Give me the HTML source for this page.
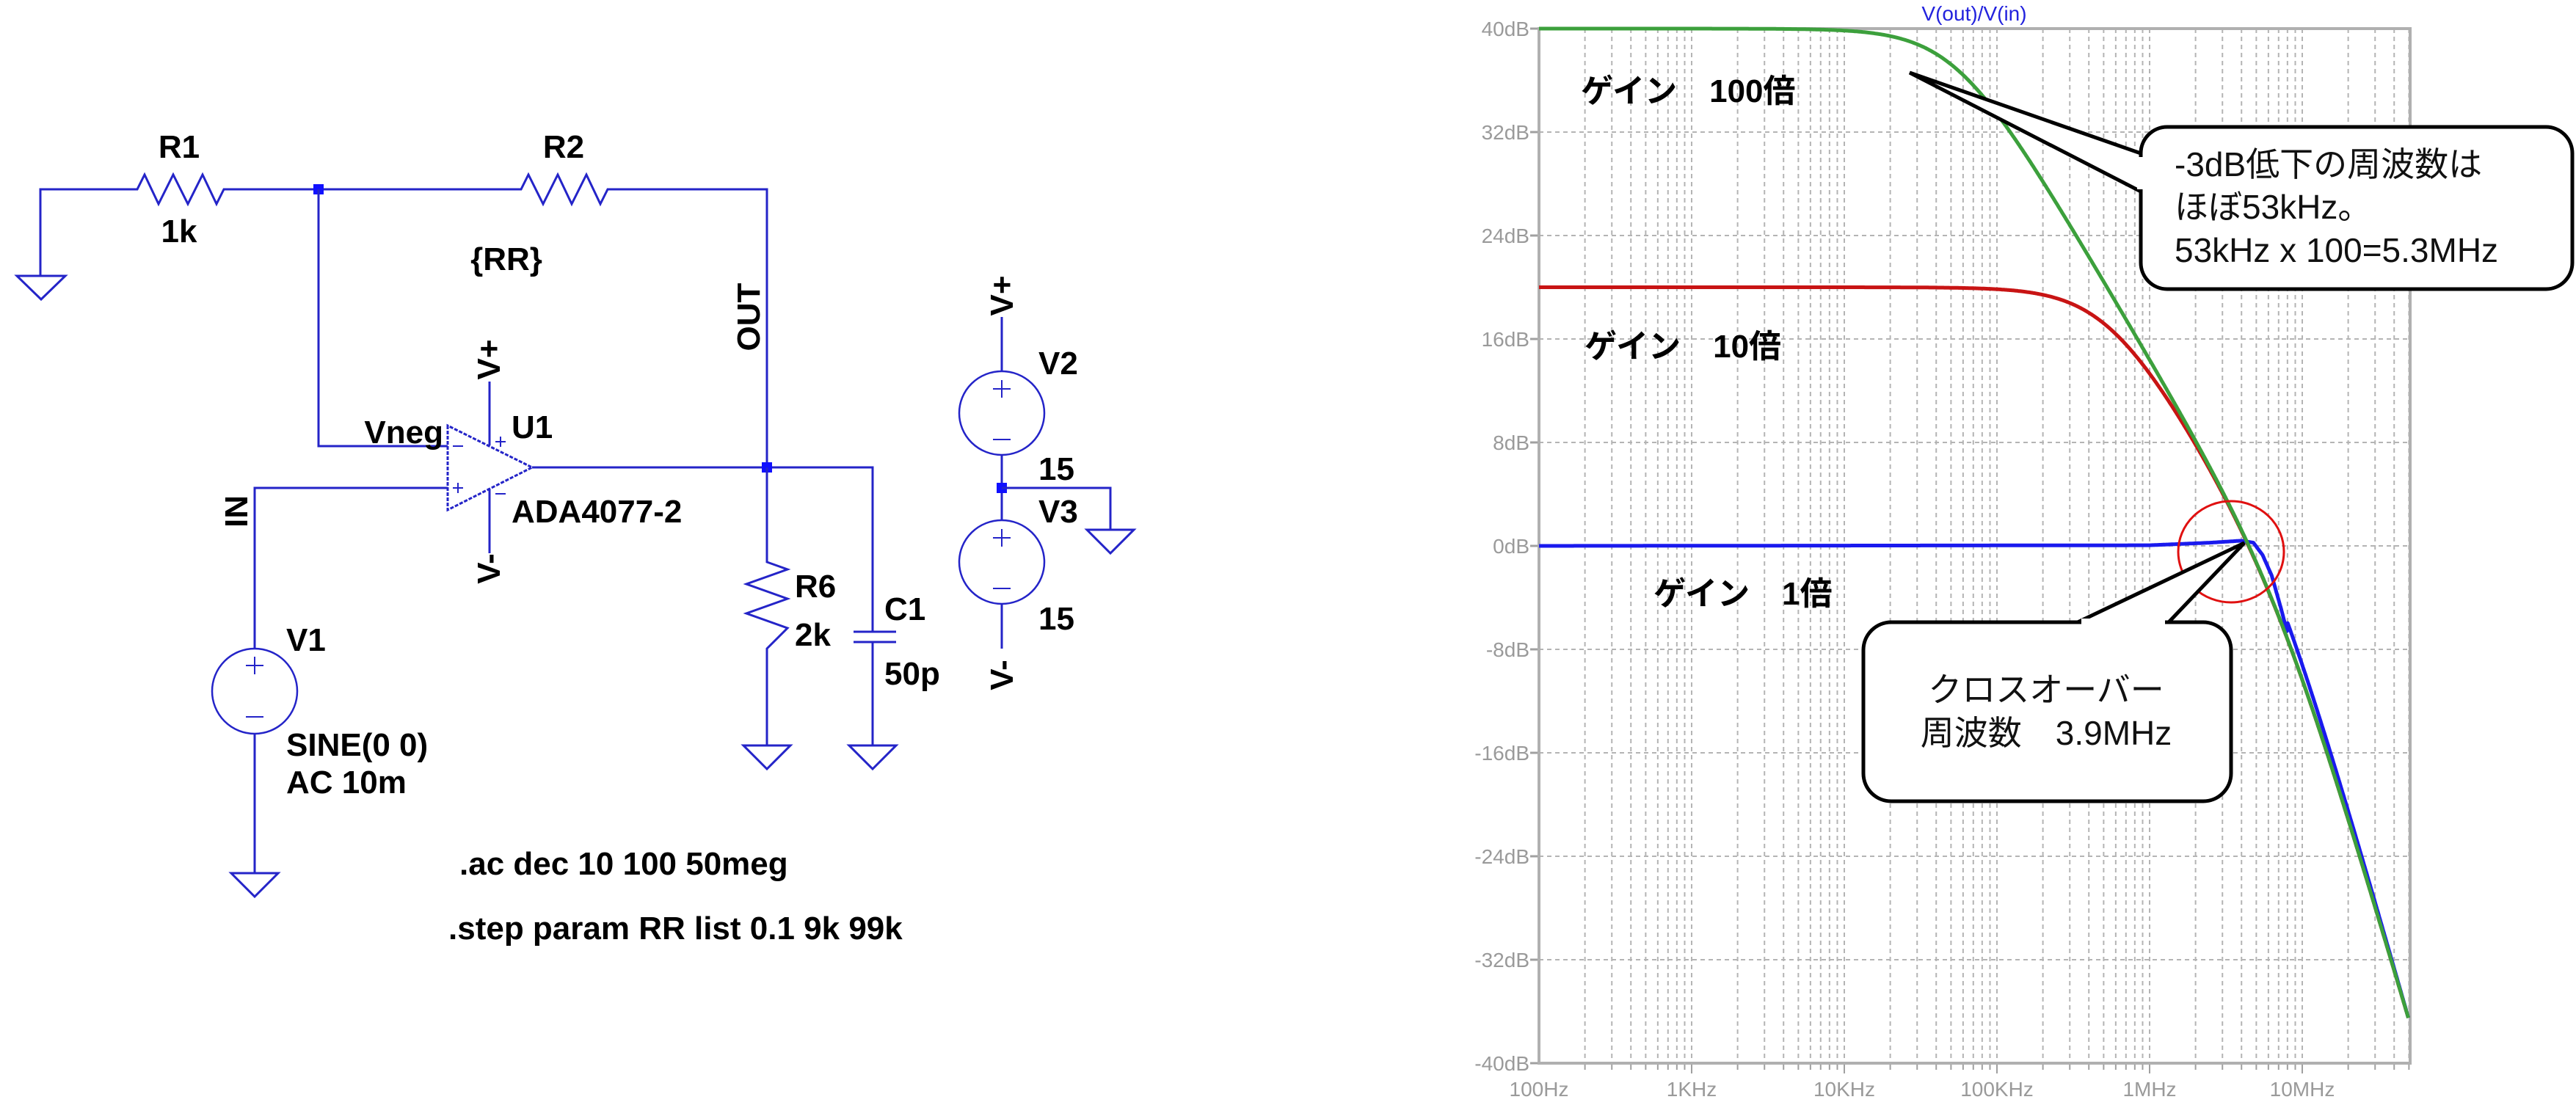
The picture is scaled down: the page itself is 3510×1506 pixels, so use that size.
<!DOCTYPE html>
<html><head><meta charset="utf-8">
<style>
html,body{margin:0;padding:0;background:#fff;}
svg{display:block;}
.s text{font-family:"Liberation Sans",sans-serif;font-weight:bold;font-size:44px;fill:#000;}
.w{stroke:#2424c8;stroke-width:3;fill:none;}
.ax{font-family:"Liberation Sans",sans-serif;font-size:28px;fill:#9a9a9a;}
.g{font-family:"Liberation Sans","Noto Sans CJK JP",sans-serif;font-weight:bold;font-size:44px;fill:#000;}
.c{font-family:"Liberation Sans","Noto Sans CJK JP",sans-serif;font-size:46px;fill:#111;}
</style></head>
<body>
<svg id="sv" width="3510" height="1506" viewBox="0 0 3510 1506" xmlns="http://www.w3.org/2000/svg">
<rect width="3510" height="1506" fill="#fff"/>
<g class="s">
 <polyline class="w" points="55,376 55,258 187,258 197,238 216,278 236,238 256,278 276,238 295,278 305,258 710,258 720,238 740,278 760,238 779,278 799,238 818,278 828,258 1045,258 1045,636"/>
 <polygon class="w" points="23,376 89,376 56,408"/>
 <rect x="427" y="251" width="14" height="14" fill="#1010ff"/>
 <text x="244" y="215" text-anchor="middle">R1</text>
 <text x="244" y="330" text-anchor="middle">1k</text>
 <text x="768" y="215" text-anchor="middle">R2</text>
 <text x="690" y="368" text-anchor="middle">{RR}</text>
 <polyline class="w" points="434,258 434,608 610,608"/>
 <text x="604" y="604" text-anchor="end">Vneg</text>
 <polygon points="610,580 610,695 725,637" fill="none" stroke="#2424c8" stroke-width="3" stroke-dasharray="5,2"/>
 <line class="w" x1="667" y1="520" x2="667" y2="607"/>
 <line class="w" x1="667" y1="667" x2="667" y2="754"/>
 <g stroke="#2424c8" stroke-width="2">
  <line x1="617" y1="608" x2="631" y2="608"/>
  <line x1="617" y1="665" x2="631" y2="665"/><line x1="624" y1="658" x2="624" y2="672"/>
  <line x1="675" y1="602" x2="689" y2="602"/><line x1="682" y1="595" x2="682" y2="609"/>
  <line x1="675" y1="673" x2="689" y2="673"/>
 </g>
 <text transform="translate(681,490) rotate(-90)" text-anchor="middle">V+</text>
 <text transform="translate(681,775) rotate(-90)" text-anchor="middle">V-</text>
 <text x="697" y="597">U1</text>
 <text x="697" y="712">ADA4077-2</text>
 <polyline class="w" points="610,665 347,665 347,884"/>
 <text transform="translate(337,697) rotate(-90)" text-anchor="middle">IN</text>
 <ellipse cx="347" cy="942" rx="58" ry="58" fill="none" stroke="#2424c8" stroke-width="2.5"/>
 <g stroke="#2424c8" stroke-width="2"><line x1="335" y1="907" x2="359" y2="907"/><line x1="347" y1="895" x2="347" y2="919"/><line x1="335" y1="977" x2="359" y2="977"/></g>
 <line class="w" x1="347" y1="1000" x2="347" y2="1190"/>
 <polygon class="w" points="315,1190 379,1190 347,1222"/>
 <text x="390" y="887">V1</text>
 <text x="390" y="1030">SINE(0 0)</text>
 <text x="390" y="1081">AC 10m</text>
 <polyline class="w" points="725,637 1189,637 1189,860"/>
 <rect x="1038" y="630" width="14" height="14" fill="#1010ff"/>
 <text transform="translate(1035,432) rotate(-90)" text-anchor="middle">OUT</text>
 <polyline class="w" points="1045,637 1045,766 1073,776 1017,796 1073,816 1017,836 1073,856 1045,884 1045,1016"/>
 <polygon class="w" points="1013,1016 1077,1016 1045,1048"/>
 <text x="1083" y="814">R6</text>
 <text x="1083" y="880">2k</text>
 <line class="w" x1="1163" y1="861" x2="1221" y2="861"/>
 <line class="w" x1="1163" y1="875" x2="1221" y2="875"/>
 <line class="w" x1="1189" y1="875" x2="1189" y2="1016"/>
 <polygon class="w" points="1157,1016 1221,1016 1189,1048"/>
 <text x="1205" y="845">C1</text>
 <text x="1205" y="933">50p</text>
 <text transform="translate(1380,403) rotate(-90)" text-anchor="middle">V+</text>
 <line class="w" x1="1365" y1="432" x2="1365" y2="506"/>
 <ellipse cx="1365" cy="563" rx="58" ry="57" fill="none" stroke="#2424c8" stroke-width="2.5"/>
 <g stroke="#2424c8" stroke-width="2"><line x1="1353" y1="530" x2="1377" y2="530"/><line x1="1365" y1="518" x2="1365" y2="542"/><line x1="1353" y1="599" x2="1377" y2="599"/></g>
 <line class="w" x1="1365" y1="620" x2="1365" y2="709"/>
 <rect x="1358" y="658" width="14" height="14" fill="#1010ff"/>
 <polyline class="w" points="1365,665 1513,665 1513,722"/>
 <polygon class="w" points="1481,722 1545,722 1513,754"/>
 <ellipse cx="1365" cy="766" rx="58" ry="57" fill="none" stroke="#2424c8" stroke-width="2.5"/>
 <g stroke="#2424c8" stroke-width="2"><line x1="1353" y1="733" x2="1377" y2="733"/><line x1="1365" y1="721" x2="1365" y2="745"/><line x1="1353" y1="802" x2="1377" y2="802"/></g>
 <line class="w" x1="1365" y1="823" x2="1365" y2="884"/>
 <text transform="translate(1380,920) rotate(-90)" text-anchor="middle">V-</text>
 <text x="1415" y="510">V2</text>
 <text x="1415" y="654">15</text>
 <text x="1415" y="712">V3</text>
 <text x="1415" y="858">15</text>
 <text x="626" y="1192">.ac dec 10 100 50meg</text>
 <text x="611" y="1280">.step param RR list 0.1 9k 99k</text>
</g>
<g id="plot"></g>
</svg>
<script>
(function(){
var NS="http://www.w3.org/2000/svg",P=document.getElementById('plot');
function el(t,a,txt){var e=document.createElementNS(NS,t);for(var k in a)e.setAttribute(k,a[k]);if(txt!==undefined)e.textContent=txt;P.appendChild(e);return e;}
var X0=2097,DX=208,Y0=744,DY=141/8,XR=3284,YT=39,YB=1449;
function X(lf){return X0+(lf-2)*DX;} function Y(db){return Y0-db*DY;}
for(var d=2;d<=7;d++)for(var m=1;m<=9;m++){var lf=d+Math.log10(m);if(lf<=2||lf>=7.7)continue;var x=X(lf);
 el('line',{x1:x,y1:YT,x2:x,y2:YB,stroke:'#b4b4b4','stroke-width':2,'stroke-dasharray':'6,5'});
 el('line',{x1:x,y1:YB,x2:x,y2:YB+(m==1?14:9),stroke:'#a0a0a0','stroke-width':2});}
for(var db=-32;db<=32;db+=8){var y=Y(db);el('line',{x1:X0,y1:y,x2:XR,y2:y,stroke:'#b4b4b4','stroke-width':2,'stroke-dasharray':'6,5'});}
for(var db=-40;db<=40;db+=8){var y=Y(db);el('line',{x1:X0-12,y1:y,x2:X0,y2:y,stroke:'#a0a0a0','stroke-width':3});
 el('text',{x:X0-13,y:y+10,'text-anchor':'end','class':'ax'},db+'dB');}
el('rect',{x:X0,y:YT,width:XR-X0,height:YB-YT,fill:'none',stroke:'#b0b0b0','stroke-width':4});
var xl=['100Hz','1KHz','10KHz','100KHz','1MHz','10MHz'];
for(var i=0;i<6;i++)el('text',{x:X(2+i),y:1494,'text-anchor':'middle','class':'ax'},xl[i]);
el('text',{x:2690,y:28,'text-anchor':'middle',style:'font-family:"Liberation Sans",sans-serif;font-size:28px;fill:#2222dd'},'V(out)/V(in)');
function sys(G,lf){var f=Math.pow(10,lf),fc=5.3e6/G,fp=7e6;return 20*Math.log10(G/Math.sqrt(1+(f/fc)*(f/fc))/Math.sqrt(1+(f/fp)*(f/fp)));}
var bt=[[2,0],[6,0.05],[6.4,0.25],[6.6,0.4],[6.68,0.25],[6.74,-0.7],[6.8,-2.3],[6.86,-4.8],[6.9,-6.6]];
function blue(lf){if(lf>6.9){return sys(100,lf)+1.3*(7.7-lf)/0.8;}
 for(var i=1;i<bt.length;i++)if(lf<=bt[i][0]){var a=bt[i-1],b=bt[i];return a[1]+(b[1]-a[1])*(lf-a[0])/(b[0]-a[0]);}return -6.6;}
function path(fn,col){var d='';for(var lf=2;lf<=7.699;lf+=0.005){d+=(d?'L':'M')+X(lf).toFixed(1)+','+Y(fn(lf)).toFixed(1);}
 el('path',{d:d,fill:'none',stroke:col,'stroke-width':5,'stroke-linejoin':'round'});}
path(function(l){return sys(10,l);},'#c81414');
path(blue,'#1a1aee');
path(function(l){return sys(100,l);},'#3ca03c');
el('ellipse',{cx:3040,cy:752,rx:72,ry:69,fill:'none',stroke:'#e01010','stroke-width':3});
el('text',{x:2154,y:139,'class':'g'},'ゲイン　100倍');
el('text',{x:2159,y:487,'class':'g'},'ゲイン　10倍');
el('text',{x:2253,y:824,'class':'g'},'ゲイン　1倍');
el('path',{d:'M2917,209 L2602,99 L2917,261',fill:'#fff',stroke:'#000','stroke-width':5,'stroke-linejoin':'miter'});
el('rect',{x:2917,y:173,width:588,height:221,rx:36,fill:'#fff',stroke:'#000','stroke-width':5});
el('rect',{x:2912,y:214,width:12,height:44,fill:'#fff'});
el('text',{x:2963,y:240,'class':'c'},'-3dB低下の周波数は');
el('text',{x:2963,y:298,'class':'c'},'ほぼ53kHz。');
el('text',{x:2963,y:357,'class':'c'},'53kHz x 100=5.3MHz');
el('path',{d:'M2831,848 L3058,740 L2955,848',fill:'#fff',stroke:'#000','stroke-width':5});
el('rect',{x:2539,y:848,width:501,height:244,rx:38,fill:'#fff',stroke:'#000','stroke-width':5});
el('rect',{x:2836,y:843,width:114,height:12,fill:'#fff'});
el('text',{x:2788,y:956,'text-anchor':'middle','class':'c'},'クロスオーバー');
el('text',{x:2788,y:1015,'text-anchor':'middle','class':'c'},'周波数　3.9MHz');
})();
</script>
</body></html>
